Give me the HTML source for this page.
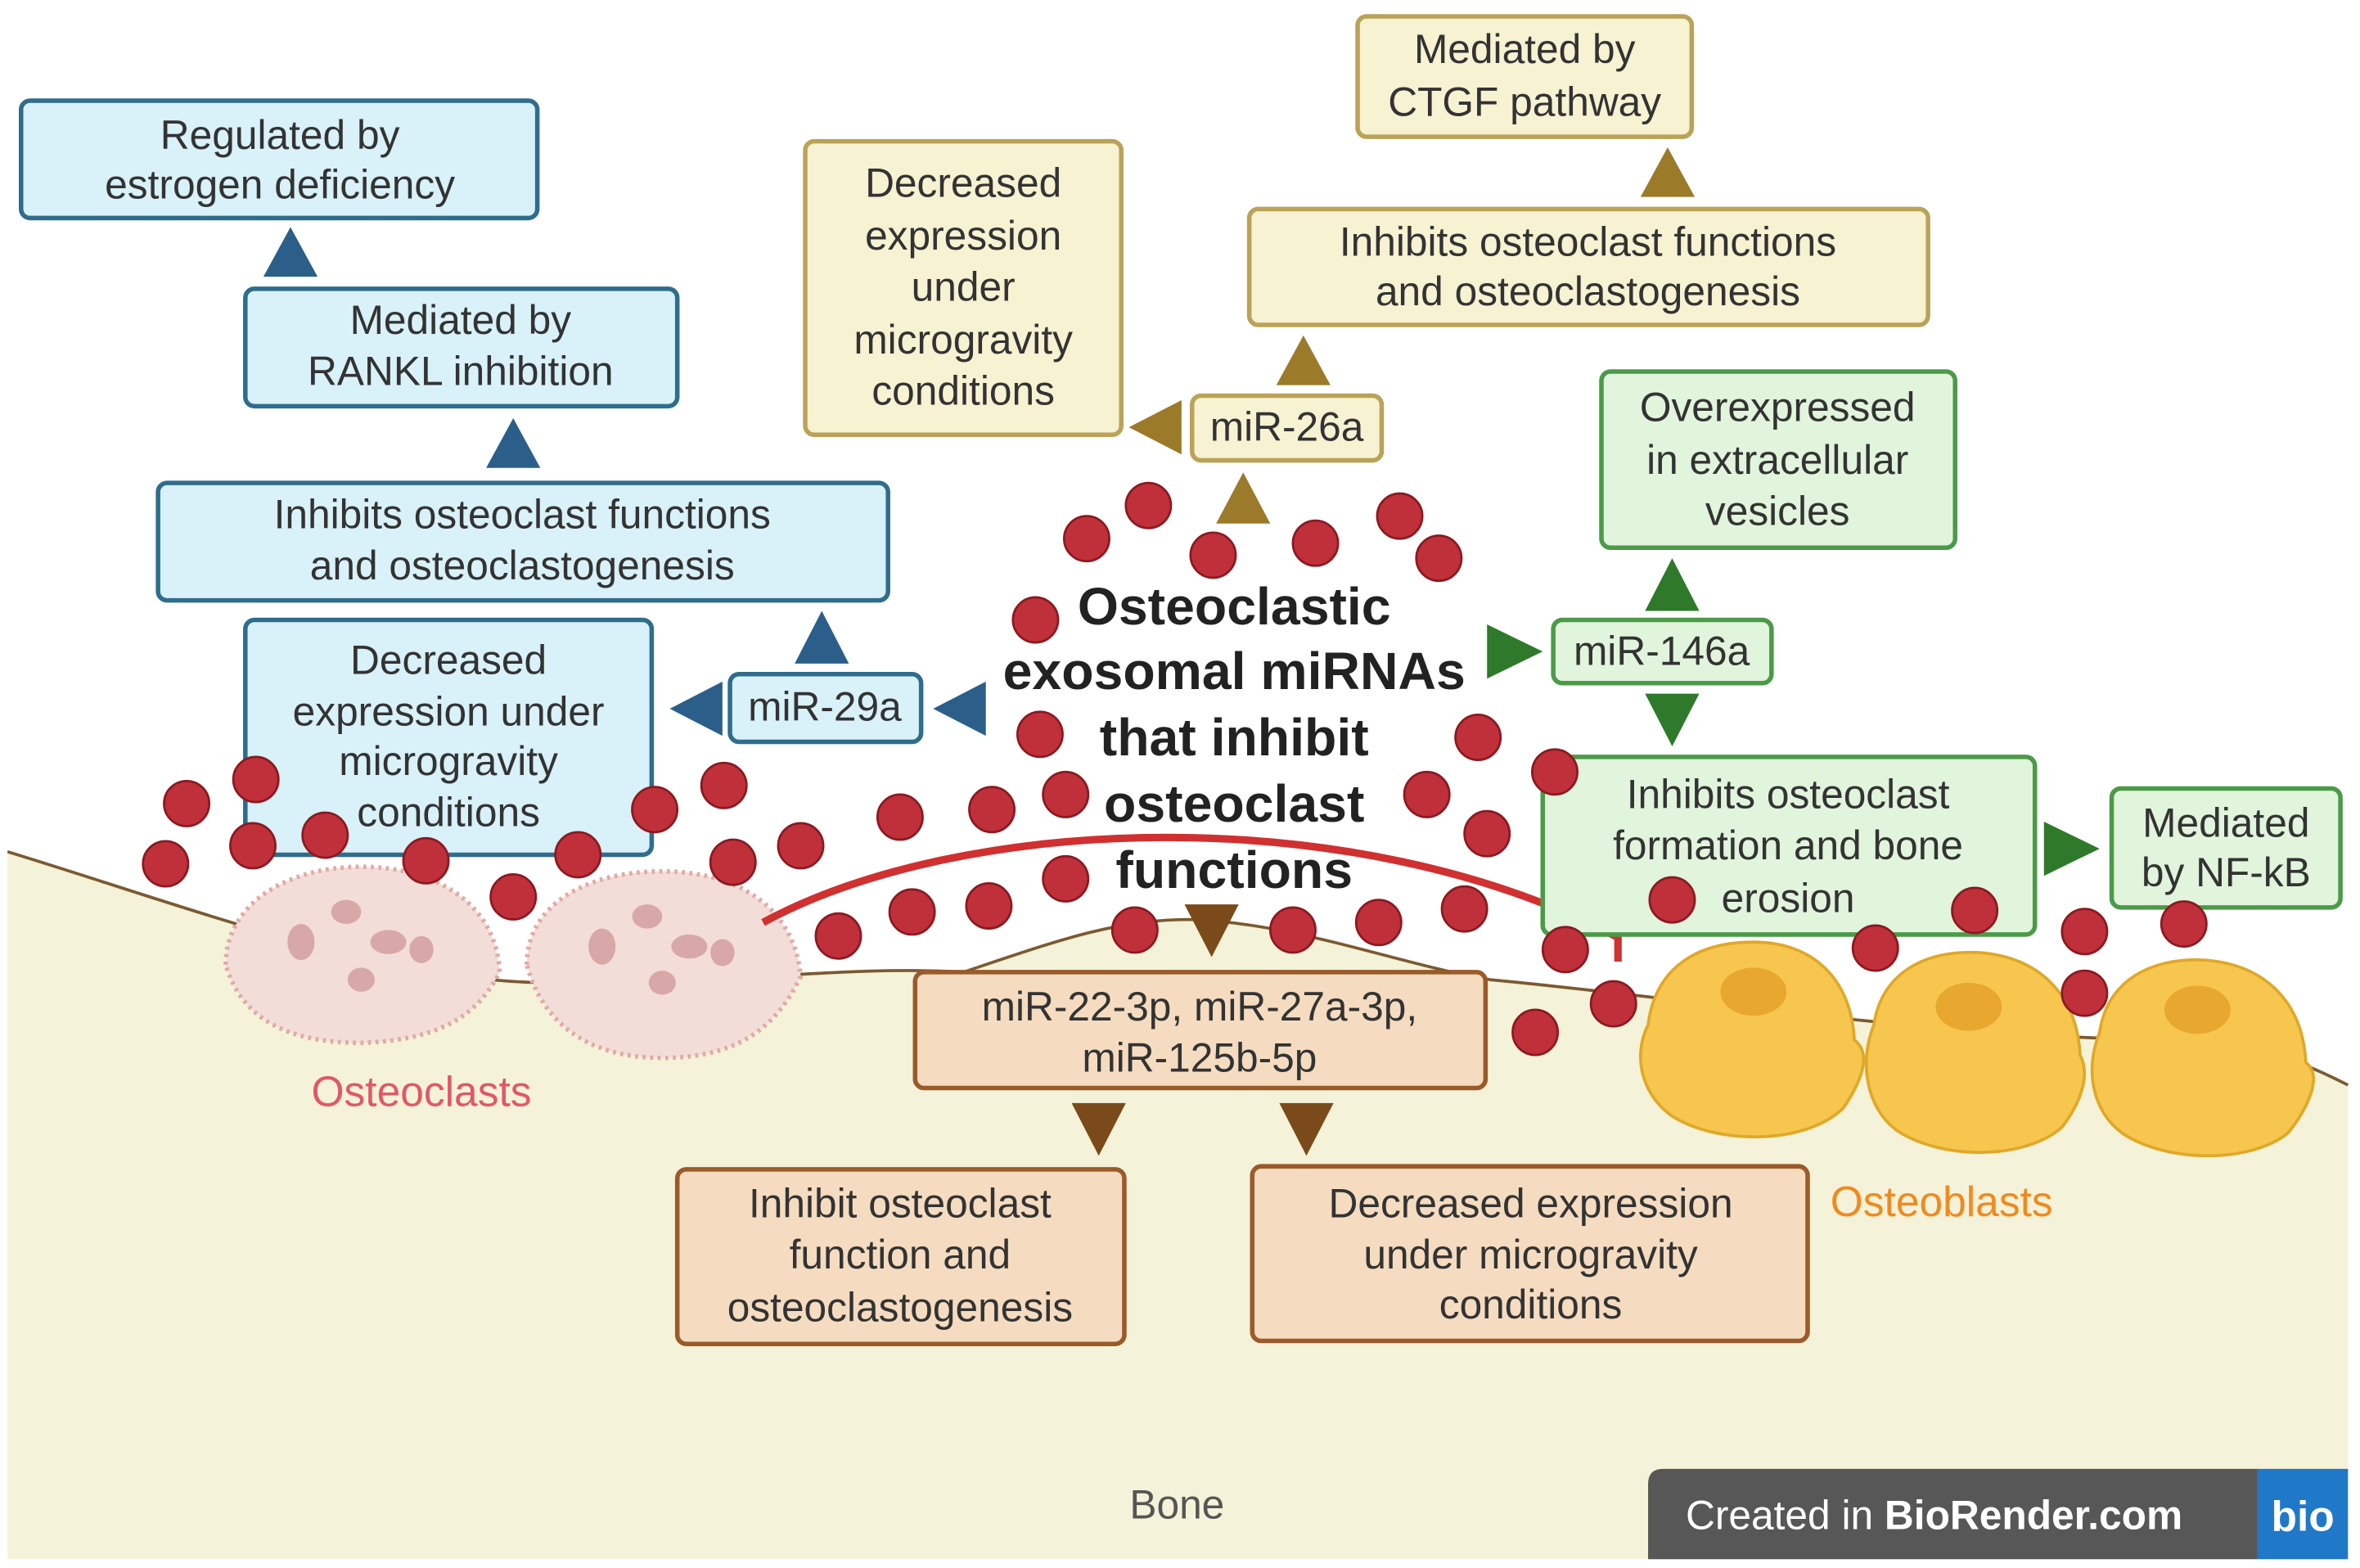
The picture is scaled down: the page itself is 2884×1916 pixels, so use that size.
<!DOCTYPE html>
<html><head><meta charset="utf-8"><style>
html,body{margin:0;padding:0;background:#fff}
svg{display:block}
text{font-family:"Liberation Sans",sans-serif}
</style></head><body>
<svg width="2884" height="1916" viewBox="0 0 1568 1040" xmlns="http://www.w3.org/2000/svg">
<rect width="1568" height="1040" fill="#fff"/>
<!-- bone -->
<path d="M5,565 C120,600 250,650 360,652 C480,654 560,640 640,645 C700,625 740,610 790,610 C860,612 930,640 990,650 C1100,660 1300,690 1450,690 C1500,690 1540,710 1560,720 L1560,1035 L5,1035 Z" fill="#f4f2d8"/>
<path d="M5,565 C120,600 250,650 360,652 C480,654 560,640 640,645 C700,625 740,610 790,610 C860,612 930,640 990,650 C1100,660 1300,690 1450,690 C1500,690 1540,710 1560,720" fill="none" stroke="#7a5a30" stroke-width="2"/>
<!-- osteoclasts -->
<g fill="#f3ddd8" stroke="#e0aaa4" stroke-width="3" stroke-dasharray="2,3">
<path d="M150,640 C150,600 190,575 240,575 C290,575 330,600 332,645 C320,668 300,690 240,692 C190,692 160,675 150,640Z"/>
<path d="M350,640 C350,600 390,578 440,578 C490,578 528,602 532,648 C520,672 500,702 440,702 C390,702 360,678 350,640Z"/>
</g>
<g fill="#d8a8a8"><ellipse cx="200" cy="625" rx="9" ry="12"/><ellipse cx="230" cy="605" rx="10" ry="8"/><ellipse cx="258" cy="625" rx="12" ry="8"/><ellipse cx="240" cy="650" rx="9" ry="8"/><ellipse cx="280" cy="630" rx="8" ry="9"/>
<ellipse cx="400" cy="628" rx="9" ry="12"/><ellipse cx="430" cy="608" rx="10" ry="8"/><ellipse cx="458" cy="628" rx="12" ry="8"/><ellipse cx="440" cy="652" rx="9" ry="8"/><ellipse cx="480" cy="632" rx="8" ry="9"/></g>
<text x="280" y="734" font-size="28" fill="#e05868" text-anchor="middle">Osteoclasts</text>
<!-- osteoblasts -->
<g fill="#f6c64e" stroke="#e0a828" stroke-width="2">
<path d="M1095,680 C1100,640 1130,625 1165,625 C1205,625 1230,650 1232,690 C1245,700 1235,720 1225,735 C1200,760 1140,760 1110,740 C1090,725 1085,700 1095,680Z"/>
<path d="M1245,680 C1250,645 1280,630 1315,632 C1355,635 1380,660 1382,700 C1390,715 1380,735 1370,748 C1345,770 1290,770 1260,750 C1240,735 1235,705 1245,680Z"/>
<path d="M1395,685 C1400,650 1430,635 1465,637 C1505,640 1530,665 1532,705 C1545,715 1530,740 1520,752 C1495,772 1440,772 1410,752 C1390,737 1385,710 1395,685Z"/>
</g>
<g fill="#e8a830"><ellipse cx="1165" cy="658" rx="22" ry="16"/><ellipse cx="1308" cy="668" rx="22" ry="16"/><ellipse cx="1460" cy="670" rx="22" ry="16"/></g>
<text x="1290" y="807" font-size="28" fill="#f08a20" text-anchor="middle">Osteoblasts</text>
<text x="782" y="1008" font-size="27" fill="#555" text-anchor="middle">Bone</text>
<!-- inhibition arc -->
<path d="M507,612 C640,540 900,530 1075,622" fill="none" stroke="#d03030" stroke-width="5"/>
<line x1="1075" y1="605" x2="1075" y2="638" stroke="#d03030" stroke-width="5"/>
<!-- boxes -->
<g stroke-width="3">
<g fill="#d9f1f8" stroke="#2f6d8c">
<rect x="14" y="66" width="343" height="78" rx="6"/>
<rect x="163" y="191" width="287" height="78" rx="6"/>
<rect x="105" y="320" width="485" height="78" rx="6"/>
<rect x="163" y="411" width="270" height="156" rx="6"/>
<rect x="485" y="447" width="127" height="45" rx="6"/>
</g>
<g fill="#f6f2d2" stroke="#baa258">
<rect x="902" y="10" width="222" height="80" rx="6"/>
<rect x="830" y="138" width="451" height="77" rx="6"/>
<rect x="535" y="93" width="210" height="195" rx="6"/>
<rect x="792" y="262" width="126" height="43" rx="6"/>
</g>
<g fill="#e1f4dc" stroke="#4b9a48">
<rect x="1064" y="246" width="235" height="117" rx="6"/>
<rect x="1032" y="411" width="145" height="42" rx="6"/>
<rect x="1025" y="502" width="327" height="118" rx="6"/>
<rect x="1403" y="523" width="152" height="79" rx="6"/>
</g>
<g fill="#f5dcc0" stroke="#9a5a2a">
<rect x="608" y="645" width="379" height="77" rx="6"/>
<rect x="450" y="776" width="297" height="116" rx="6"/>
<rect x="832" y="774" width="369" height="116" rx="6"/>
</g>
</g>
<!-- triangles -->
<g fill="#2b5f8a">
<polygon points="175,183 211,183 193,150"/><polygon points="323,310 359,310 341,277"/><polygon points="528,440 564,440 546,405"/>
<polygon points="480,452 480,488 445,470"/><polygon points="655,452 655,488 620,470"/>
</g>
<g fill="#9b7a2a">
<polygon points="1090,130 1126,130 1108,97"/><polygon points="848,255 884,255 866,222"/><polygon points="785,265 785,301 750,283"/><polygon points="808,347 844,347 826,313"/>
</g>
<g fill="#2e7a2a">
<polygon points="988,414 988,450 1025,432"/><polygon points="1093,405 1129,405 1111,370"/><polygon points="1093,460 1129,460 1111,495"/><polygon points="1358,545 1358,581 1395,563"/>
</g>
<g fill="#7a4a1a">
<polygon points="787,600 823,600 805,635"/><polygon points="712,732 748,732 730,767"/><polygon points="850,732 886,732 868,767"/>
</g>
<!-- dots -->
<g fill="#c0303a" stroke="#8a1a20" stroke-width="1.5">
<circle cx="722" cy="357" r="15"/><circle cx="763" cy="335" r="15"/><circle cx="806" cy="368" r="15"/><circle cx="874" cy="360" r="15"/><circle cx="930" cy="342" r="15"/><circle cx="956" cy="370" r="15"/><circle cx="688" cy="411" r="15"/><circle cx="691" cy="487" r="15"/><circle cx="708" cy="527" r="15"/><circle cx="659" cy="537" r="15"/><circle cx="598" cy="542" r="15"/><circle cx="532" cy="561" r="15"/><circle cx="487" cy="572" r="15"/><circle cx="481" cy="521" r="15"/><circle cx="435" cy="537" r="15"/><circle cx="384" cy="567" r="15"/><circle cx="341" cy="595" r="15"/><circle cx="283" cy="571" r="15"/><circle cx="216" cy="554" r="15"/><circle cx="170" cy="517" r="15"/><circle cx="124" cy="533" r="15"/><circle cx="110" cy="573" r="15"/><circle cx="168" cy="561" r="15"/><circle cx="557" cy="621" r="15"/><circle cx="606" cy="605" r="15"/><circle cx="657" cy="601" r="15"/><circle cx="708" cy="583" r="15"/><circle cx="754" cy="617" r="15"/><circle cx="859" cy="617" r="15"/><circle cx="916" cy="612" r="15"/><circle cx="973" cy="603" r="15"/><circle cx="988" cy="553" r="15"/><circle cx="948" cy="527" r="15"/><circle cx="982" cy="489" r="15"/><circle cx="1033" cy="512" r="15"/><circle cx="1040" cy="630" r="15"/><circle cx="1072" cy="666" r="15"/><circle cx="1020" cy="685" r="15"/><circle cx="1111" cy="597" r="15"/><circle cx="1246" cy="629" r="15"/><circle cx="1312" cy="604" r="15"/><circle cx="1385" cy="618" r="15"/><circle cx="1385" cy="659" r="15"/><circle cx="1451" cy="613" r="15"/>
</g>
<!-- box text -->
<g font-size="27" fill="#333" text-anchor="middle">
<text x="186" y="98">Regulated by</text><text x="186" y="131">estrogen deficiency</text>
<text x="306" y="221">Mediated by</text><text x="306" y="255">RANKL inhibition</text>
<text x="347" y="350">Inhibits osteoclast functions</text><text x="347" y="384">and osteoclastogenesis</text>
<text x="298" y="447">Decreased</text><text x="298" y="481">expression under</text><text x="298" y="514">microgravity</text><text x="298" y="548">conditions</text>
<text x="548" y="478">miR-29a</text>
<text x="1013" y="41">Mediated by</text><text x="1013" y="76">CTGF pathway</text>
<text x="1055" y="169">Inhibits osteoclast functions</text><text x="1055" y="202">and osteoclastogenesis</text>
<text x="640" y="130">Decreased</text><text x="640" y="165">expression</text><text x="640" y="199">under</text><text x="640" y="234">microgravity</text><text x="640" y="268">conditions</text>
<text x="855" y="292">miR-26a</text>
<text x="1181" y="279">Overexpressed</text><text x="1181" y="314">in extracellular</text><text x="1181" y="348">vesicles</text>
<text x="1104" y="441">miR-146a</text>
<text x="1188" y="536">Inhibits osteoclast</text><text x="1188" y="570">formation and bone</text><text x="1188" y="605">erosion</text>
<text x="1479" y="555">Mediated</text><text x="1479" y="588">by NF-kB</text>
<text x="797" y="677">miR-22-3p, miR-27a-3p,</text><text x="797" y="711">miR-125b-5p</text>
<text x="598" y="808">Inhibit osteoclast</text><text x="598" y="842">function and</text><text x="598" y="877">osteoclastogenesis</text>
<text x="1017" y="808">Decreased expression</text><text x="1017" y="842">under microgravity</text><text x="1017" y="875">conditions</text>
</g>
<g font-size="35" font-weight="bold" fill="#222" text-anchor="middle">
<text x="820" y="414">Osteoclastic</text><text x="820" y="457">exosomal miRNAs</text><text x="820" y="501">that inhibit</text><text x="820" y="545">osteoclast</text><text x="820" y="589">functions</text>
</g>
<!-- badge -->
<path d="M1105,975 L1500,975 L1500,1035 L1095,1035 L1095,985 Q1095,975 1105,975Z" fill="#575757"/>
<rect x="1500" y="975" width="60" height="60" fill="#1f78c8"/>
<text x="1120" y="1015" font-size="27" fill="#fff">Created in <tspan font-weight="bold">BioRender.com</tspan></text>
<text x="1530" y="1016" font-size="28" font-weight="bold" fill="#fff" text-anchor="middle">bio</text>
</svg>
</body></html>
